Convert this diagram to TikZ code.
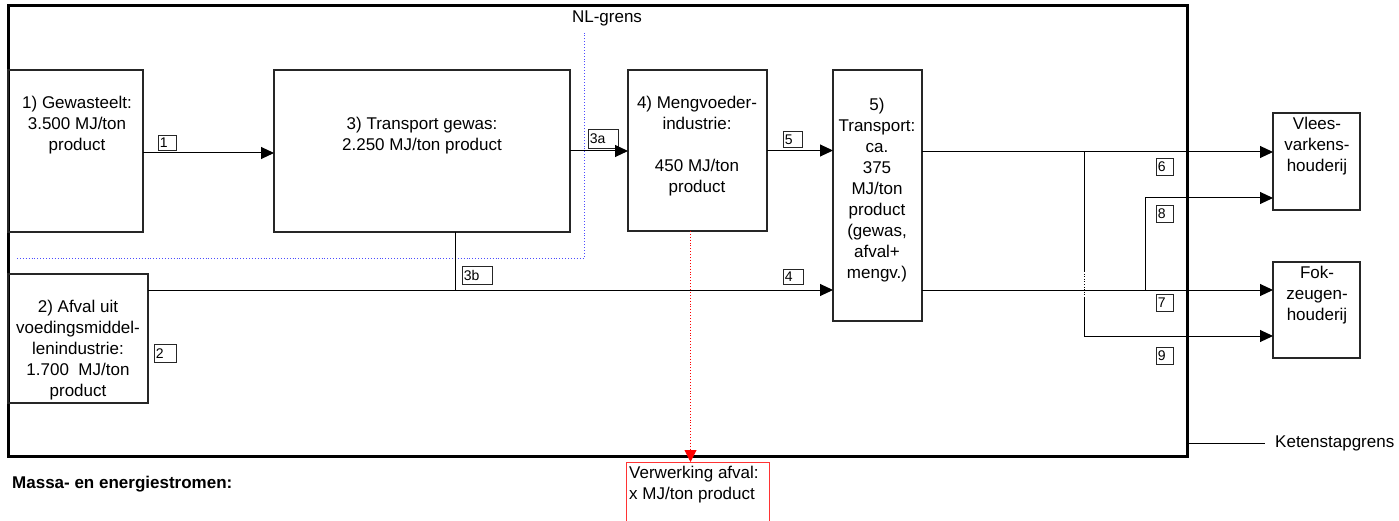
\documentclass[tikz,border=0pt]{standalone}
\usepackage{fontspec}
\setmainfont{Liberation Sans}
\usetikzlibrary{arrows.meta}
\tikzset{
  box/.style={draw=black!85, line width=1.1pt, inner sep=0pt, outer sep=0pt, anchor=north west},
  txt/.style={align=center, inner sep=0pt, font=\fontsize{17}{21}\selectfont},
  lbl/.style={draw=black!85, line width=0.8pt, inner sep=1.5pt, anchor=north west, align=left, font=\fontsize{14}{15}\selectfont},
  arr/.style={line width=1pt, -{Triangle[length=13pt,width=12pt]}},
  conn/.style={line width=1pt},
  bluedot/.style={blue!70, line width=0.9pt, dotted},
  reddot/.style={red, line width=0.9pt, dotted, -{Triangle[length=12pt,width=12pt]}},
}
\begin{document}
\begin{tikzpicture}[x=1pt,y=-1pt]
\useasboundingbox (0,0) rectangle (1399,521);
% frame
\node[box, line width=3pt, draw=black, minimum width=1179pt, minimum height=450pt] (fr) at (8,6) {};
% boxes
\node[box, minimum width=135pt, minimum height=162pt] (b1) at (8,70) {};
\node[box, minimum width=140pt, minimum height=129pt] (b2) at (8,274) {};
\node[box, minimum width=296pt, minimum height=162pt] (b3) at (274,70) {};
\node[box, minimum width=139pt, minimum height=161pt] (b4) at (628,70) {};
\node[box, minimum width=89pt, minimum height=251pt] (b5) at (833,70) {};
\node[box, minimum width=87pt, minimum height=97pt] (vl) at (1273,113) {};
\node[box, minimum width=87pt, minimum height=96pt] (fk) at (1273,262) {};
\node[box, draw=red!80, line width=0.8pt, minimum width=143pt, minimum height=75pt] (rb) at (626,462) {};
% texts
\node[txt] (t1) at (77,125) {1) Gewasteelt:\\3.500 MJ/ton\\product};
\node[txt] (t2) at (78,350) {2) Afval uit\\voedingsmiddel-\\lenindustrie:\\1.700\ \ MJ/ton\\product};
\node[txt] (t3) at (422,135.5) {3) Transport gewas:\\2.250 MJ/ton product};
\node[txt] (t4) at (697,146.5) {4) Mengvoeder-\\industrie:\\[21pt]450 MJ/ton\\product};
\node[txt] (t5) at (877,190) {5)\\Transport:\\ca.\\375\\MJ/ton\\product\\(gewas,\\afval+\\mengv.)};
\node[txt] (tv) at (1317,146) {Vlees-\\varkens-\\houderij};
\node[txt] (tf) at (1317,295) {Fok-\\zeugen-\\houderij};
\node[txt, align=left, anchor=north west] (tr) at (629,466) {Verwerking afval:\\x MJ/ton product};
\node[txt] (nl) at (607,18) {NL-grens};
\node[txt, anchor=west] (kg) at (1275,443) {Ketenstapgrens};
\node[txt, anchor=west, font=\fontsize{17}{20}\selectfont\bfseries] (ms) at (12,484) {Massa- en energiestromen:};
% labels
\node[lbl, text width=15pt, minimum height=15pt] (l1) at (158,135) {1};
\node[lbl, text width=19pt, minimum height=18pt] (l2) at (154,344) {2};
\node[lbl, text width=27pt, minimum height=19pt] (l3a) at (588,129) {3a};
\node[lbl, text width=27pt, minimum height=18pt] (l3b) at (462,266) {3b};
\node[lbl, text width=17pt, minimum height=15pt] (l4) at (783,269) {4};
\node[lbl, text width=16pt, minimum height=16pt] (l5) at (783,131) {5};
\node[lbl, text width=14pt, minimum height=17pt] (l6) at (1156,158) {6};
\node[lbl, text width=14pt, minimum height=17pt] (l8) at (1156,205) {8};
\node[lbl, text width=14pt, minimum height=17pt] (l7) at (1156,294) {7};
\node[lbl, text width=14pt, minimum height=17pt] (l9) at (1156,347) {9};
% NL-grens
\coordinate (n1) at (17,258);
\coordinate (n2) at (584,258);
\coordinate (n3) at (584,33);
\draw[bluedot] (n1) -- (n2) -- (n3);
% flows
\draw[arr] ([yshift=-2pt]b1.east) -- ([yshift=-2pt]b3.west);
\draw[arr] (b3.east) -- (b3.east -| b4.west);
\draw[arr] (b4.east) -- (b4.east -| b5.west);
\coordinate (s2) at ([yshift=-16pt]b2.north east);
\draw[arr] (s2) -- (s2 -| b5.west);
\draw[conn] ([xshift=33pt]b3.south) -- ([xshift=33pt]b3.south |- s2);
\coordinate (o6) at ([yshift=-82pt]b5.north east);
\coordinate (o7) at ([yshift=-220pt]b5.north east);
\draw[arr] (o6) -- (o6 -| vl.west);
\draw[arr] (o7) -- (o7 -| fk.west);
\coordinate (j1) at (1084,152);
\coordinate (g1) at (1084,271);
\coordinate (g2) at (1084,298);
\coordinate (j9) at (1084,336);
\draw[conn] (j1) -- (g1);
\draw[line width=0.6pt, dotted] (g1) -- (g2);
\draw[arr] (g2) -- (j9) -- (j9 -| fk.west);
\coordinate (j8) at (1145,290);
\coordinate (k8) at (1145,198);
\draw[arr] (j8) -- (k8) -- (k8 -| vl.west);
\draw[reddot] ([xshift=-7pt]b4.south) -- ([xshift=-7pt]rb.north);
\draw[conn] (fr.east |- kg.west) -- ([xshift=-10pt]kg.west);
\end{tikzpicture}
\end{document}
